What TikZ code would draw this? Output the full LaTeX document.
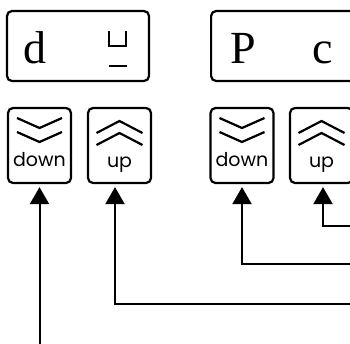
\documentclass[tikz,border=0pt]{standalone}
\usepackage{fontspec}
\usetikzlibrary{arrows.meta}
\newfontfamily\dispfont{Liberation Serif}
\newfontfamily\keyfont{Poppins}

\begin{document}
\begin{tikzpicture}[x=1pt, y=-1pt,
	frame/.style={draw, line width=2.2pt, rounded corners=5pt, inner sep=0pt},
	btn/.style={frame, minimum width=63pt, minimum height=75pt},
	chev/.style={line width=2.2pt, line join=miter},
	digit/.style={anchor=base, inner sep=0pt, font=\dispfont\fontsize{46}{46}\selectfont},
	keylbl/.style={anchor=base, inner sep=0pt, font=\keyfont\fontsize{19}{19}\selectfont},
	feed/.style={line width=2pt, -{Triangle[length=17pt, width=19pt]}}]
	\useasboundingbox (0,0) rectangle (350,343);
	\clip (0,0) rectangle (350,343);

	% two displays, the second one runs off the edge
	\node[frame, minimum width=142pt, minimum height=70pt] (disp1) at (78,46) {};
	\node[frame, minimum width=160pt, minimum height=70pt, anchor=west] (disp2) at (210,46) {};
	\node[digit] (d1) at (34.5,63) {d};
	\draw[line width=2pt] (109,31) -- (109,46) -- (126,46) -- (126,31) (109,66) -- (127,66);
	\node[digit] (p2) at (243.5,63) {P};
	\node[digit] (c2) at (322.5,63) {c};

	% keys
	\foreach \name/\cx in {dn1/39.5, dn2/242} {
		\node[btn] (\name) at (\cx,145.5) {};
		\draw[chev] (\cx-22.5,118) -- (\cx,128) -- (\cx+22.5,118) (\cx-22.5,132) -- (\cx,142) -- (\cx+22.5,132);
		\node[keylbl] (\name-lbl) at (\cx,166) {down};
	}
	\foreach \name/\cx in {up1/119.5, up2/321.5} {
		\node[btn] (\name) at (\cx,145.5) {};
		\draw[chev] (\cx-23,133) -- (\cx,121) -- (\cx+23,133) (\cx-23,145) -- (\cx,133) -- (\cx+23,145);
		\node[keylbl] (\name-lbl) at (\cx,167) {up};
	}

	% lines feeding the keys
	\coordinate (inA) at (39.5,345);
	\coordinate (inB) at (352,304);
	\coordinate (inC) at (352,264);
	\coordinate (inD) at (352,226);
	\draw[feed] (inA) -- ([yshift=-3pt]dn1.south);
	\draw[feed] (inB) -| ([xshift=-4.5pt, yshift=-3pt]up1.south);
	\draw[feed] (inC) -| ([yshift=-3pt]dn2.south);
	\draw[feed] (inD) -| ([xshift=1.5pt, yshift=-3pt]up2.south);
\end{tikzpicture}
\end{document}
